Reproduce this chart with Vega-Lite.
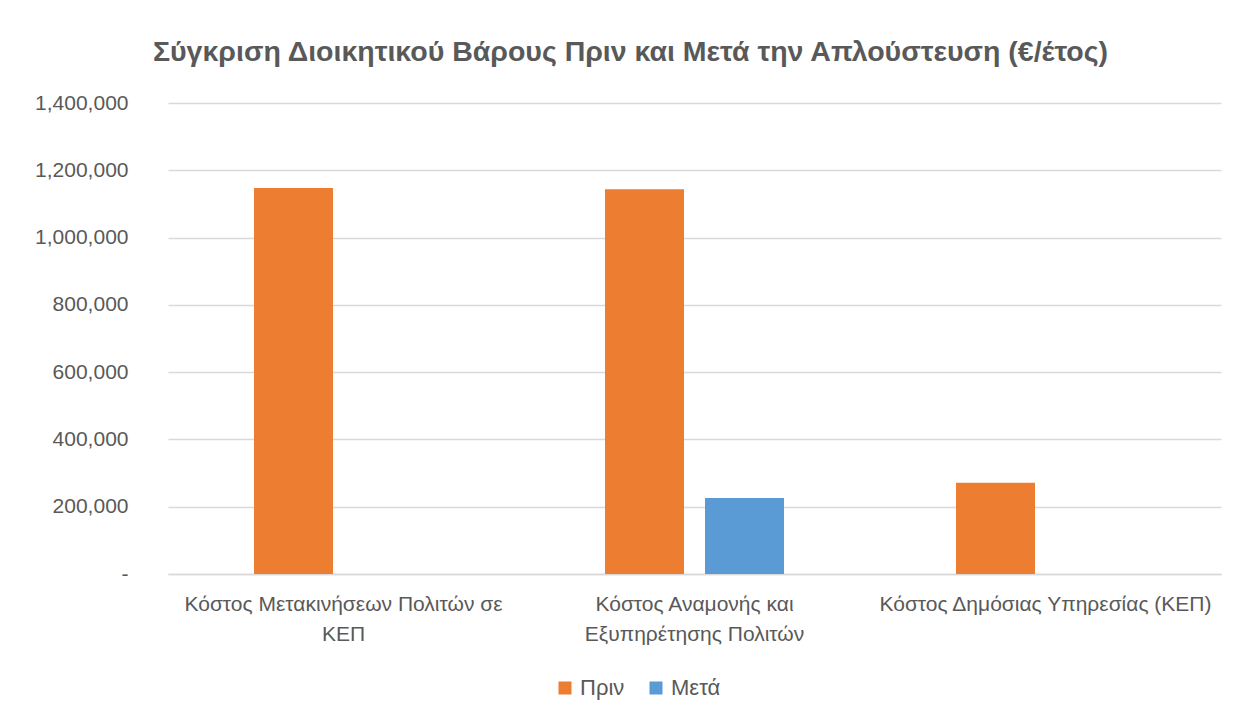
{
  "$schema": "https://vega.github.io/schema/vega-lite/v6.json",
  "autosize": {"type": "none"},
  "width": 1053,
  "height": 471,
  "padding": {"left": 168, "top": 103, "right": 17, "bottom": 145},
  "background": "white",
  "title": {
    "text": "Σύγκριση Διοικητικού Βάρους Πριν και Μετά την Απλούστευση (€/έτος)",
    "font": "Liberation Sans",
    "fontSize": 28.5,
    "fontWeight": "bold",
    "color": "#595959",
    "anchor": "middle",
    "dx": -64,
    "offset": 26
  },
  "data": {
    "values": [
      {"category": "Κόστος Μετακινήσεων Πολιτών σε ΚΕΠ", "phase": "Πριν", "value": 1147000},
      {"category": "Κόστος Μετακινήσεων Πολιτών σε ΚΕΠ", "phase": "Μετά", "value": 0},
      {"category": "Κόστος Αναμονής και Εξυπηρέτησης Πολιτών", "phase": "Πριν", "value": 1144000},
      {"category": "Κόστος Αναμονής και Εξυπηρέτησης Πολιτών", "phase": "Μετά", "value": 226000},
      {"category": "Κόστος Δημόσιας Υπηρεσίας (ΚΕΠ)", "phase": "Πριν", "value": 271000},
      {"category": "Κόστος Δημόσιας Υπηρεσίας (ΚΕΠ)", "phase": "Μετά", "value": 0}
    ]
  },
  "mark": {"type": "bar"},
  "encoding": {
    "x": {
      "field": "category",
      "type": "nominal",
      "sort": null,
      "scale": {"paddingInner": 0.49, "paddingOuter": 0.245},
      "axis": {
        "title": null,
        "labelAngle": 0,
        "labelFont": "Liberation Sans",
        "labelFontSize": 21,
        "labelColor": "#595959",
        "labelLineHeight": 30,
        "labelPadding": 19,
        "labelLimit": 0,
        "ticks": false,
        "domainColor": "#D9D9D9",
        "domainWidth": 1.5,
        "labelExpr": "datum.label == 'Κόστος Μετακινήσεων Πολιτών σε ΚΕΠ' ? ['Κόστος Μετακινήσεων Πολιτών σε', 'ΚΕΠ'] : datum.label == 'Κόστος Αναμονής και Εξυπηρέτησης Πολιτών' ? ['Κόστος Αναμονής και', 'Εξυπηρέτησης Πολιτών'] : datum.label"
      }
    },
    "xOffset": {
      "field": "phase",
      "type": "nominal",
      "sort": ["Πριν", "Μετά"],
      "scale": {"paddingInner": 0.21, "paddingOuter": 0}
    },
    "y": {
      "field": "value",
      "type": "quantitative",
      "scale": {"domain": [0, 1400000]},
      "axis": {
        "title": null,
        "values": [0, 200000, 400000, 600000, 800000, 1000000, 1200000, 1400000],
        "labelExpr": "datum.value == 0 ? '-\u00a0\u00a0' : format(datum.value, ',')",
        "labelFont": "Liberation Sans",
        "labelFontSize": 21,
        "labelColor": "#595959",
        "labelPadding": 40,
        "ticks": false,
        "domain": false,
        "gridColor": "#D9D9D9",
        "gridWidth": 1.5
      }
    },
    "color": {
      "field": "phase",
      "type": "nominal",
      "sort": ["Πριν", "Μετά"],
      "scale": {"domain": ["Πριν", "Μετά"], "range": ["#ED7D31", "#5B9BD5"]},
      "legend": {
        "title": null,
        "orient": "none",
        "direction": "horizontal",
        "legendX": 386,
        "legendY": 574,
        "symbolType": "square",
        "symbolSize": 169,
        "symbolStrokeWidth": 0,
        "labelFont": "Liberation Sans",
        "labelFontSize": 22,
        "labelColor": "#595959",
        "labelOffset": 4,
        "columnPadding": 20
      }
    }
  },
  "config": {"view": {"stroke": null}}
}
